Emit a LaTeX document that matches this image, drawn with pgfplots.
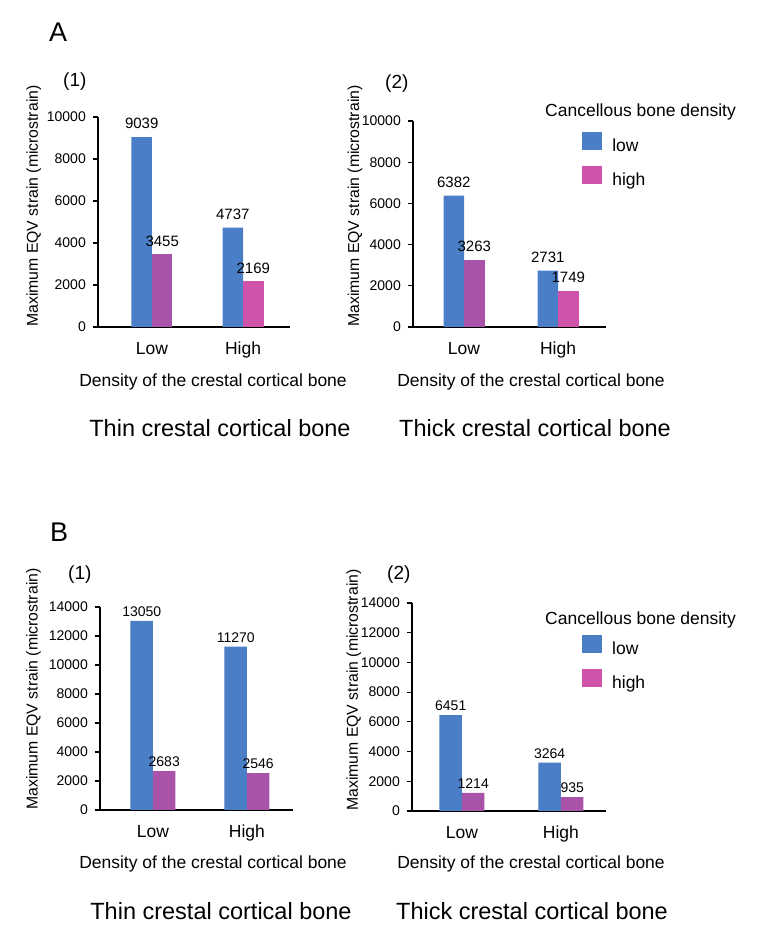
\documentclass[border=0pt]{standalone}
\usepackage{fontspec}
\setmainfont{Liberation Sans}
\usepackage{pgfplots}
\pgfplotsset{compat=1.18}
\definecolor{blueC}{HTML}{4A7EC6}
\definecolor{purpC}{HTML}{A852A8}
\definecolor{pinkC}{HTML}{D052AA}
\newcommand{\fs}[1]{\fontsize{#1}{#1}\selectfont}

\pgfplotsset{
  bonestyle/.style={
    scale only axis,
    anchor=south west,
    axis lines=left,
    axis line style={-, line width=1.4pt, black},
    ymin=0,
    scaled y ticks=false,
    xtick={0,1}, xticklabels={Low,High},
    xtick style={draw=none},
    ytick style={line width=1.2pt, black},
    major tick length=5pt,
    tick align=outside,
    /pgf/number format/assume math mode=true,
    /pgf/number format/1000 sep={},
    yticklabel style={font=\fs{14}, inner sep=0pt, xshift=-7pt},
    xticklabel style={font=\fs{17.5}, inner sep=0pt, yshift=-10pt},
    ybar, clip=false,
    nodes near coords,
    every node near coord/.append style={font=\fs{15}, black, inner sep=0pt, anchor=south},
    ylabel={Maximum EQV strain (microstrain)},
    legend image code/.code={\fill[##1] (0pt,-4pt) rectangle (20pt,14pt);},
    legend style={draw=none, fill=none, inner sep=0pt, font=\fs{17.5},
      row sep=13pt, nodes={inner sep=0pt}, /tikz/column 1/.style={column sep=10pt}, cells={anchor=west}},
  }
}

\begin{document}
\begin{tikzpicture}
\useasboundingbox (0pt,0pt) rectangle (756pt,930pt);

% ---------- A(1)
\begin{axis}[bonestyle, at={(98pt,603pt)}, width=192pt, height=210pt,
  xmin=-0.593, xmax=1.516, ymax=10000, ytick={0,2000,...,10000},
  bar width=20.5pt,
  every node near coord/.append style={yshift=8pt},
  every axis y label/.style={at={(axis description cs:-0.335,0)}, rotate=90, anchor=west, inner sep=0pt, font=\fs{15.8}}]
\addplot[fill=blueC, draw=none, bar shift=-10.25pt] coordinates {(0,9039) (1,4737)};
\addplot[fill=purpC, draw=none, bar shift=10.25pt] coordinates {(0,3455)};
\addplot[fill=pinkC, draw=none, bar shift=10.25pt] coordinates {(1,2169)};
\end{axis}

% ---------- A(2)
\begin{axis}[bonestyle, at={(413pt,603pt)}, width=193pt, height=206pt,
  xmin=-0.543, xmax=1.51, ymax=10000, ytick={0,2000,...,10000},
  bar width=20.5pt,
  every node near coord/.append style={yshift=8pt},
  every axis y label/.style={at={(axis description cs:-0.30,0)}, rotate=90, anchor=west, inner sep=0pt, font=\fs{15.8}},
  legend style={at={(axis description cs:0.876,0.947)}, anchor=north west}]
\addplot[fill=blueC, draw=none, bar shift=-10.25pt, forget plot] coordinates {(0,6382) (1,2731)};
\addplot[fill=purpC, draw=none, bar shift=10.25pt, forget plot] coordinates {(0,3263)};
\addplot[fill=pinkC, draw=none, bar shift=10.25pt, forget plot] coordinates {(1,1749)};
\addlegendimage{fill=blueC, draw=none}
\addlegendentry{low}
\addlegendimage{fill=pinkC, draw=none}
\addlegendentry{high}
\end{axis}

% ---------- B(1)
\begin{axis}[bonestyle, at={(100pt,120pt)}, width=193pt, height=203pt,
  xmin=-0.564, xmax=1.49, ymax=14000, ytick={0,2000,...,14000},
  bar width=22.5pt,
  every node near coord/.append style={yshift=4pt, font=\fs{14}},
  every axis y label/.style={at={(axis description cs:-0.345,0)}, rotate=90, anchor=west, inner sep=0pt, font=\fs{15.8}}]
\addplot[fill=blueC, draw=none, bar shift=-11.25pt] coordinates {(0,13050) (1,11270)};
\addplot[fill=purpC, draw=none, bar shift=11.25pt] coordinates {(0,2683) (1,2546)};
\end{axis}

% ---------- B(2)
\begin{axis}[bonestyle, at={(412pt,119pt)}, width=194pt, height=208pt,
  xmin=-0.505, xmax=1.455, ymax=14000, ytick={0,2000,...,14000},
  bar width=22.5pt,
  every node near coord/.append style={yshift=4pt, font=\fs{14}},
  every axis y label/.style={at={(axis description cs:-0.30,0)}, rotate=90, anchor=west, inner sep=0pt, font=\fs{15.8}},
  legend style={at={(axis description cs:0.876,0.846)}, anchor=north west}]
\addplot[fill=blueC, draw=none, bar shift=-11.25pt, forget plot] coordinates {(0,6451) (1,3264)};
\addplot[fill=purpC, draw=none, bar shift=11.25pt, forget plot] coordinates {(0,1214) (1,935)};
\addlegendimage{fill=blueC, draw=none}
\addlegendentry{low}
\addlegendimage{fill=pinkC, draw=none}
\addlegendentry{high}
\end{axis}

% ---------- text around the panels
\begin{scope}[every node/.style={inner sep=0pt}]
\node[anchor=base west, font=\fs{27}] at (49pt,888pt) {A};
\node[anchor=base west, font=\fs{27}] at (50pt,388pt) {B};
\node[anchor=base west, font=\fs{19}] at (63pt,843pt) {(1)};
\node[anchor=base west, font=\fs{19}] at (385pt,841pt) {(2)};
\node[anchor=base west, font=\fs{19}] at (68pt,350pt) {(1)};
\node[anchor=base west, font=\fs{19}] at (387pt,350pt) {(2)};
\node[anchor=base west, font=\fs{17.5}] at (545pt,813pt) {Cancellous bone density};
\node[anchor=base west, font=\fs{17.5}] at (545pt,305pt) {Cancellous bone density};
\node[anchor=base, font=\fs{17.5}] at (213pt,543.5pt) {Density of the crestal cortical bone};
\node[anchor=base, font=\fs{17.5}] at (531pt,543.5pt) {Density of the crestal cortical bone};
\node[anchor=base, font=\fs{17.5}] at (213pt,61pt) {Density of the crestal cortical bone};
\node[anchor=base, font=\fs{17.5}] at (531pt,61pt) {Density of the crestal cortical bone};
\node[anchor=base, font=\fs{23.5}] at (220pt,493pt) {Thin crestal cortical bone};
\node[anchor=base, font=\fs{23.5}] at (535pt,493pt) {Thick crestal cortical bone};
\node[anchor=base, font=\fs{23.5}] at (221pt,10pt) {Thin crestal cortical bone};
\node[anchor=base, font=\fs{23.5}] at (532pt,10pt) {Thick crestal cortical bone};
\end{scope}
\end{tikzpicture}
\end{document}
